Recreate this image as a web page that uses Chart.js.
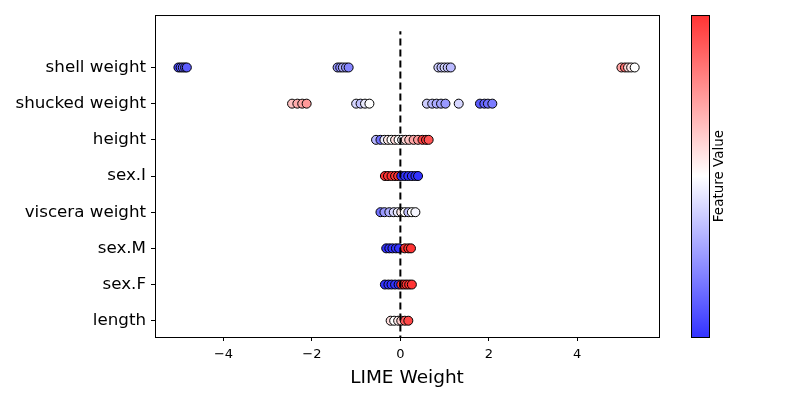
<!DOCTYPE html>
<html>
<head>
<meta charset="utf-8">
<script src="https://cdn.jsdelivr.net/npm/chart.js@4"></script>
<style>
  html, body { margin: 0; padding: 0; background: #fff; }
  #wrap { width: 800px; height: 400px; }
</style>
</head>
<body>
<div id="wrap"><canvas id="limeChart" width="800" height="400"></canvas></div>
<script>
// feature names, bottom to top (index = y position)
const features = ['length', 'sex.F', 'sex.M', 'viscera weight', 'sex.I', 'height', 'shucked weight', 'shell weight'];

// LIME weights per feature (x values)
const lengthWeights = [-0.22, -0.14, -0.05, 0.02, 0.1, 0.18];
const sexFWeights = [-0.35, -0.27, -0.2, -0.12, -0.04, 0.02, 0.08, 0.14, 0.2, 0.26];
const sexMWeights = [-0.32, -0.25, -0.18, -0.1, -0.03, 0.1, 0.18, 0.24];
const visceraWeights = [-0.45, -0.36, -0.25, -0.15, -0.06, 0.02, 0.1, 0.18, 0.26, 0.34];
const sexIWeights = [-0.35, -0.28, -0.2, -0.12, -0.05, 0.02, 0.1, 0.18, 0.26, 0.34, 0.4];
const heightWeights = [-0.55, -0.45, -0.36, -0.28, -0.2, -0.12, -0.04, 0.04, 0.12, 0.2, 0.3, 0.4, 0.5, 0.58, 0.64];
const shuckedWeights = [-2.45, -2.33, -2.22, -2.12, -1.0, -0.9, -0.8, -0.7, 0.6, 0.72, 0.82, 0.92, 1.02, 1.32, 1.8, 1.9, 1.98, 2.08];
const shellWeights = [-5.02, -4.97, -4.92, -4.87, -4.83, -1.42, -1.36, -1.3, -1.23, -1.17, 0.86, 0.93, 1.0, 1.07, 1.14, 5.0, 5.08, 5.15, 5.22, 5.3];

// normalised feature values (colour), 0 = blue, 1 = red
const lengthValues = [0.58, 0.5, 0.55, 0.62, 0.9, 0.95];
const sexFValues = [0, 0, 0, 0, 0, 1, 1, 1, 1, 1];
const sexMValues = [0, 0, 0, 0, 0, 1, 1, 1];
const visceraValues = [0.15, 0.25, 0.3, 0.4, 0.45, 0.55, 0.5, 0.35, 0.5, 0.48];
const sexIValues = [1, 1, 1, 1, 1, 0, 0, 0, 0, 0, 0];
const heightValues = [0.32, 0.15, 0.45, 0.55, 0.5, 0.58, 0.5, 0.48, 0.6, 0.65, 0.72, 0.75, 0.95, 0.98, 0.92];
const shuckedValues = [0.65, 0.7, 0.72, 0.75, 0.4, 0.35, 0.45, 0.5, 0.38, 0.32, 0.3, 0.28, 0.25, 0.4, 0.1, 0.12, 0.15, 0.18];
const shellValues = [0.05, 0.1, 0.12, 0.08, 0.1, 0.25, 0.22, 0.3, 0.25, 0.2, 0.38, 0.35, 0.4, 0.36, 0.33, 0.72, 0.85, 0.6, 0.55, 0.5];

const xTicks = [-4, -2, 0, 2, 4];

const allWeights = [lengthWeights, sexFWeights, sexMWeights, visceraWeights, sexIWeights, heightWeights, shuckedWeights, shellWeights];
const allValues = [lengthValues, sexFValues, sexMValues, visceraValues, sexIValues, heightValues, shuckedValues, shellValues];

// matplotlib 'bwr' with alpha 0.8 over white
function bwr(t) {
    let r, g, b;
    if (t <= 0.5) { r = g = 2 * t; b = 1; }
    else { r = 1; g = b = 2 * (1 - t); }
    const mix = c => Math.round(255 * (0.8 * c + 0.2));
    return `rgb(${mix(r)},${mix(g)},${mix(b)})`;
}

const datasets = [{
    type: 'line',
    data: [{ x: 0, y: -0.6 }, { x: 0, y: 8 }],
    borderColor: '#000',
    borderWidth: 2,
    borderDash: [7, 4],
    pointRadius: 0,
    fill: false,
}];

features.forEach((name, i) => {
    datasets.push({
        label: name,
        data: allWeights[i].map(w => ({ x: w, y: i })),
        pointBackgroundColor: allValues[i].map(bwr),
        pointBorderColor: '#000',
        pointBorderWidth: 1,
        pointRadius: 4.5,
        showLine: false,
    });
});

const frameAndColorbar = {
    id: 'frameAndColorbar',
    afterDraw(chart) {
        const { ctx, chartArea: a } = chart;
        ctx.save();
        ctx.strokeStyle = '#000';
        ctx.lineWidth = 1;
        ctx.strokeRect(a.left + 0.5, a.top + 0.5, a.right - a.left, a.bottom - a.top);

        // colorbar
        const cx = 691, cw = 18;
        const grad = ctx.createLinearGradient(0, a.bottom, 0, a.top);
        for (let k = 0; k <= 10; k++) grad.addColorStop(k / 10, bwr(k / 10));
        ctx.fillStyle = grad;
        ctx.fillRect(cx, a.top, cw, a.bottom - a.top);
        ctx.strokeRect(cx + 0.5, a.top + 0.5, cw, a.bottom - a.top);

        ctx.translate(719, (a.top + a.bottom) / 2);
        ctx.rotate(-Math.PI / 2);
        ctx.fillStyle = '#000';
        ctx.font = '13.5px "DejaVu Sans"';
        ctx.textAlign = 'center';
        ctx.textBaseline = 'middle';
        ctx.fillText('Feature Value', 0, 0);
        ctx.restore();
    }
};

new Chart(document.getElementById('limeChart').getContext('2d'), {
    type: 'scatter',
    data: { datasets },
    plugins: [frameAndColorbar],
    options: {
        responsive: false,
        animation: false,
        layout: { padding: { left: 0, right: 141, top: 14, bottom: 0 } },
        scales: {
            x: {
                type: 'linear',
                min: -5.55,
                max: 5.85,
                afterBuildTicks: scale => { scale.ticks = xTicks.map(v => ({ value: v })); },
                afterFit: scale => { scale.height = 63; },
                grid: { drawOnChartArea: false, drawTicks: true, tickLength: 4, color: '#000' },
                border: { display: true, color: '#000' },
                ticks: {
                    color: '#000',
                    font: { family: 'DejaVu Sans', size: 13 },
                    padding: 6,
                    callback: v => (v < 0 ? '\u2212' + Math.abs(v) : String(v)),
                },
                title: {
                    display: true,
                    text: 'LIME Weight',
                    color: '#000',
                    font: { family: 'DejaVu Sans', size: 18.5 },
                    padding: { top: 0, bottom: 11 },
                },
            },
            y: {
                type: 'linear',
                min: -0.45,
                max: 8.45,
                afterBuildTicks: scale => { scale.ticks = features.map((f, i) => ({ value: i })); },
                afterFit: scale => { scale.width = 155; },
                grid: { drawOnChartArea: false, drawTicks: true, tickLength: 4, color: '#000' },
                border: { display: true, color: '#000' },
                ticks: {
                    color: '#000',
                    font: { family: 'DejaVu Sans', size: 16.7 },
                    padding: 5,
                    callback: v => features[v] ?? '',
                },
            },
        },
        plugins: {
            legend: { display: false },
            tooltip: { enabled: false },
        },
    },
});
</script>
</body>
</html>
